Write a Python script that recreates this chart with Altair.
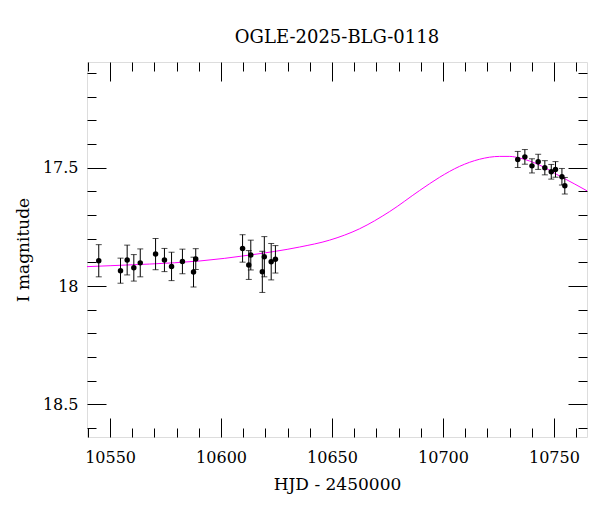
import altair as alt
import pandas as pd

FONT = "DejaVu Serif"

title_text = "OGLE-2025-BLG-0118"
x_title = "HJD - 2450000"
y_title = "I magnitude"

# observed photometry
t_obs = [10544.9, 10554.7, 10557.7, 10560.7, 10563.6, 10570.5, 10574.5, 10577.7, 10582.6, 10587.6, 10588.6,
         10609.7, 10612.5, 10613.4, 10618.6, 10619.5, 10622.6, 10624.5,
         10733.7, 10736.9, 10740.1, 10742.9, 10745.9, 10748.8, 10750.7, 10753.6, 10754.9]
mag_obs = [17.893, 17.935, 17.890, 17.923, 17.902, 17.865, 17.890, 17.917, 17.896, 17.941, 17.886,
           17.841, 17.911, 17.869, 17.940, 17.876, 17.897, 17.887,
           17.465, 17.454, 17.492, 17.475, 17.500, 17.517, 17.507, 17.538, 17.576]
err_obs = [0.068, 0.053, 0.063, 0.056, 0.059, 0.066, 0.049, 0.060, 0.052, 0.063, 0.044,
           0.058, 0.061, 0.063, 0.087, 0.085, 0.077, 0.058,
           0.034, 0.031, 0.030, 0.032, 0.030, 0.031, 0.033, 0.035, 0.035]

# model curve
t_model = [10539.6, 10550.0, 10567.8, 10590.4, 10612.9, 10635.4, 10648.9, 10662.4, 10676.0, 10689.5,
           10698.5, 10707.5, 10716.5, 10725.5, 10730.1, 10734.6, 10743.6, 10752.6, 10759.4, 10765.0]
mag_model = [17.918, 17.914, 17.907, 17.894, 17.869, 17.835, 17.806, 17.758, 17.685, 17.596,
             17.540, 17.494, 17.464, 17.452, 17.452, 17.459, 17.489, 17.535, 17.569, 17.598]

x_domain = [10539.6, 10764.9]
y_domain = [17.053, 18.638]
x_major = [10550, 10600, 10650, 10700, 10750]
x_minor = [10540, 10560, 10570, 10580, 10590, 10610, 10620, 10630, 10640, 10660, 10670, 10680,
           10690, 10710, 10720, 10730, 10740, 10760]
y_major = [17.5, 18.0, 18.5]
y_minor = [17.1, 17.2, 17.3, 17.4, 17.6, 17.7, 17.8, 17.9, 18.1, 18.2, 18.3, 18.4, 18.6]

obs = pd.DataFrame({"t": t_obs, "mag": mag_obs, "err": err_obs})
obs["lo"] = obs["mag"] - obs["err"]
obs["hi"] = obs["mag"] + obs["err"]
model = pd.DataFrame({"t": t_model, "mag": mag_model})

xs = alt.Scale(domain=x_domain, nice=False, zero=False)
ys = alt.Scale(domain=y_domain, reverse=True, nice=False, zero=False)

MAJ = 19
MIN = 9


def make_axis(orient, values, size, labels=False, title="", fmt=None, pad=0, tpad=0):
    kw = dict(orient=orient, values=values, tickSize=size, offset=-size, domain=False,
              grid=False, labels=labels, ticks=True, tickColor="black", tickWidth=1,
              title=title, labelFont=FONT, labelFontSize=16, labelColor="black",
              labelPadding=pad, titleFont=FONT, titleFontSize=17, titleFontWeight="normal",
              titleColor="black", titlePadding=tpad, labelFlush=False, labelOverlap=False)
    if fmt:
        kw["format"] = fmt
    return alt.Axis(**kw)


bottom_major = make_axis("bottom", x_major, MAJ, labels=True, title=x_title, fmt="d", pad=12, tpad=11)
bottom_minor = make_axis("bottom", x_minor, MIN)
top_major = make_axis("top", x_major, MAJ)
top_minor = make_axis("top", x_minor, MIN)
left_major = make_axis("left", y_major, MAJ, labels=True, title=y_title, fmt=".1~f", pad=9, tpad=10)
left_minor = make_axis("left", y_minor, MIN)
right_major = make_axis("right", y_major, MAJ)
right_minor = make_axis("right", y_minor, MIN)

curve = alt.Chart(model).mark_line(color="#ff00ff", strokeWidth=1, clip=True, interpolate="monotone").encode(
    x=alt.X("t:Q", scale=xs, axis=bottom_major),
    y=alt.Y("mag:Q", scale=ys, axis=left_major),
)
bars = alt.Chart(obs).mark_rule(color="black", strokeWidth=1).encode(
    x=alt.X("t:Q", scale=xs, axis=bottom_minor),
    y=alt.Y("lo:Q", scale=ys, axis=left_minor),
    y2="hi:Q",
)
cap_lo = alt.Chart(obs).mark_tick(orient="horizontal", size=6, thickness=1, color="black").encode(
    x=alt.X("t:Q", scale=xs, axis=top_major),
    y=alt.Y("lo:Q", scale=ys, axis=right_major),
)
cap_hi = alt.Chart(obs).mark_tick(orient="horizontal", size=6, thickness=1, color="black").encode(
    x=alt.X("t:Q", scale=xs, axis=top_minor),
    y=alt.Y("hi:Q", scale=ys, axis=right_minor),
)
pts = alt.Chart(obs).mark_circle(size=30, color="black", opacity=1).encode(
    x=alt.X("t:Q", scale=xs, axis=None),
    y=alt.Y("mag:Q", scale=ys, axis=None),
)

chart = alt.layer(curve, bars, cap_lo, cap_hi, pts).resolve_axis(
    x="independent", y="independent"
).properties(
    width=500,
    height=375,
    title=alt.TitleParams(title_text, font=FONT, fontSize=18, fontWeight="normal", color="black",
                          anchor="middle", baseline="alphabetic", offset=1),
    autosize=alt.AutoSizeParams(type="none"),
    padding={"left": 87, "top": 62, "right": 13, "bottom": 75},
).configure_view(stroke="black", strokeWidth=1).configure(background="white")

chart.save("out.html", embed_options={"renderer": "svg", "actions": False})
